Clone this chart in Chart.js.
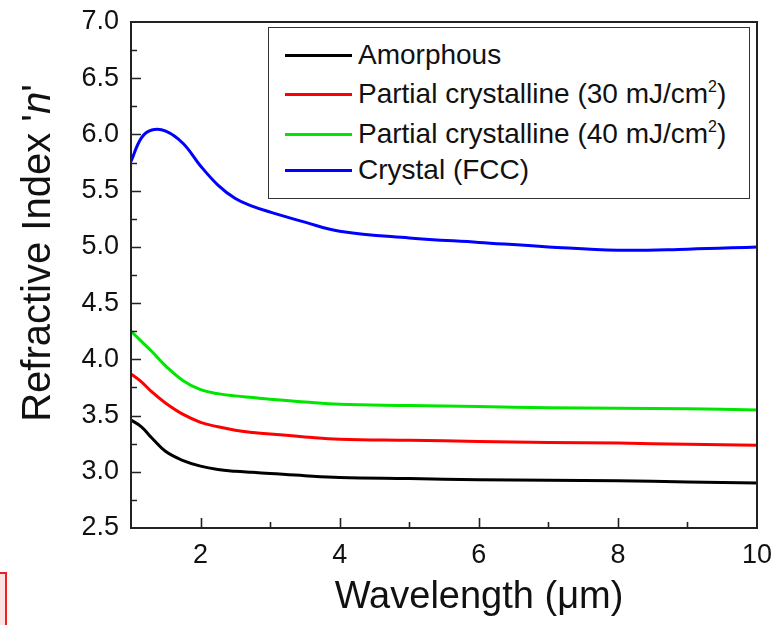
<!DOCTYPE html>
<html>
<head>
<meta charset="utf-8">
<script src="https://cdn.jsdelivr.net/npm/chart.js@4/dist/chart.umd.min.js"></script>
<style>
  html, body { margin: 0; padding: 0; background: #fff; overflow: hidden; }
  #wrap { position: relative; width: 774px; height: 625px; font-family: Arial, "Liberation Sans", sans-serif; }
  #legend {
    position: absolute; left: 268px; top: 27px; width: 480px; height: 170px;
    border: 1.5px solid #333; background: #fff; box-sizing: content-box;
  }
  .row { position: absolute; left: 0; height: 30px; font-size: 28px; line-height: 30px; color: #111; white-space: nowrap; }
  .row .ln { position: absolute; left: 16px; top: 14px; width: 67px; height: 3px; }
  .row .tx { position: absolute; left: 89px; top: 0; }
  .row sup { font-size: 16px; line-height: 0; vertical-align: 11px; }
  #mark { position: absolute; left: -30px; top: 572px; width: 33px; height: 80px; border: 2px solid #e22; background: #fde4e4; }
</style>
</head>
<body>
<div id="wrap">
  <canvas id="c" width="774" height="625"></canvas>
  <div id="legend"></div>
  <div id="mark"></div>
</div>
<script>
// wavelength (µm) and refractive index n for each phase
const wavelength  = [1, 1.15, 1.3, 1.5, 1.75, 2, 2.25, 2.5, 2.75, 3, 3.5, 4, 5, 6, 7, 8, 9, 10];
const amorphous   = [3.46, 3.40, 3.30, 3.18, 3.10, 3.05, 3.02, 3.005, 2.995, 2.985, 2.965, 2.95, 2.94, 2.93, 2.925, 2.92, 2.91, 2.90];
const partial30   = [3.87, 3.80, 3.71, 3.61, 3.51, 3.44, 3.40, 3.37, 3.35, 3.335, 3.31, 3.29, 3.28, 3.27, 3.26, 3.255, 3.245, 3.237];
const partial40   = [4.25, 4.16, 4.07, 3.94, 3.81, 3.73, 3.695, 3.675, 3.66, 3.645, 3.62, 3.60, 3.59, 3.58, 3.57, 3.565, 3.56, 3.55];
const crystal     = [5.76, 5.97, 6.04, 6.03, 5.92, 5.72, 5.55, 5.43, 5.36, 5.31, 5.22, 5.14, 5.08, 5.04, 5.00, 4.97, 4.98, 5.00];

const seriesNames  = ['Amorphous', 'Partial crystalline (30 mJ/cm<sup>2</sup>)', 'Partial crystalline (40 mJ/cm<sup>2</sup>)', 'Crystal (FCC)'];
const seriesColors = ['#000000', '#ff0000', '#00e600', '#0000ff'];

const xTicks = [2, 4, 6, 8, 10];
const yTicks = [2.5, 3.0, 3.5, 4.0, 4.5, 5.0, 5.5, 6.0, 6.5, 7.0];

const FONT = 'Arial, "Liberation Sans", sans-serif';

function toPoints(ys) {
  return wavelength.map((x, i) => ({ x, y: ys[i] }));
}

// frame box, inward ticks and axis titles
const frameAndTitles = {
  id: 'frameAndTitles',
  afterDraw(chart) {
    const { ctx, chartArea: a, scales: { x, y } } = chart;
    ctx.save();
    ctx.strokeStyle = '#222';
    ctx.lineWidth = 2;
    ctx.strokeRect(a.left, a.top, a.right - a.left, a.bottom - a.top);

    ctx.lineWidth = 1.6;
    ctx.beginPath();
    for (let v = 2.75; v < 7.0; v += 0.25) {
      const py = Math.round(y.getPixelForValue(v)) + 0.5;
      const major = Math.abs(v * 2 - Math.round(v * 2)) < 1e-6;
      ctx.moveTo(a.left, py);
      ctx.lineTo(a.left + (major ? 10 : 6), py);
    }
    for (let v = 2; v < 10; v += 1) {
      const px = Math.round(x.getPixelForValue(v)) + 0.5;
      ctx.moveTo(px, a.bottom);
      ctx.lineTo(px, a.bottom - (v % 2 === 0 ? 10 : 6));
    }
    ctx.stroke();

    ctx.fillStyle = '#111';
    ctx.textBaseline = 'alphabetic';
    ctx.font = '38px ' + FONT;
    ctx.textAlign = 'center';
    ctx.fillText('Wavelength (\u03bcm)', 479, 608);

    // y title with italic n
    ctx.translate(50, 253);
    ctx.rotate(-Math.PI / 2);
    const normal = '40px ' + FONT, italic = 'italic 40px ' + FONT;
    const parts = [["Refractive Index '", normal], ['n', italic], ["'", normal]];
    let total = 0;
    parts.forEach(([t, f]) => { ctx.font = f; total += ctx.measureText(t).width; });
    let cx = -total / 2;
    ctx.textAlign = 'left';
    parts.forEach(([t, f]) => { ctx.font = f; ctx.fillText(t, cx, 0); cx += ctx.measureText(t).width; });
    ctx.restore();
  }
};

new Chart(document.getElementById('c'), {
  type: 'line',
  data: {
    datasets: [amorphous, partial30, partial40, crystal].map((ys, i) => ({
      label: seriesNames[i].replace(/<\/?sup>/g, ''),
      data: toPoints(ys),
      borderColor: seriesColors[i],
      borderWidth: 3,
      pointRadius: 0,
      tension: 0.4,
      fill: false
    }))
  },
  options: {
    responsive: false,
    devicePixelRatio: 1,
    animation: false,
    layout: { padding: { top: 22, right: 17, left: 0, bottom: 0 } },
    plugins: { legend: { display: false }, tooltip: { enabled: false } },
    scales: {
      x: {
        type: 'linear', min: 1, max: 10,
        grid: { display: false, drawTicks: false },
        border: { display: false },
        afterBuildTicks: s => { s.ticks = xTicks.map(v => ({ value: v })); },
        afterFit: s => { s.height = 97; s.paddingLeft = 0; s.paddingRight = 0; },
        ticks: { color: '#111', font: { family: FONT, size: 27 }, padding: 11, maxRotation: 0 }
      },
      y: {
        type: 'linear', min: 2.5, max: 7.0,
        grid: { display: false, drawTicks: false },
        border: { display: false },
        afterBuildTicks: s => { s.ticks = yTicks.map(v => ({ value: v })); },
        afterFit: s => { s.width = 131; s.paddingTop = 0; s.paddingBottom = 0; },
        ticks: { color: '#111', font: { family: FONT, size: 27 }, padding: 12, callback: v => v.toFixed(1) }
      }
    }
  },
  plugins: [frameAndTitles]
});

// legend box (row centres in page pixels)
const rowCentres = [55, 94, 134, 170];
const legend = document.getElementById('legend');
seriesNames.forEach((name, i) => {
  const row = document.createElement('div');
  row.className = 'row';
  row.style.top = (rowCentres[i] - 27 - 1.5 - 15) + 'px';
  row.innerHTML = '<span class="ln" style="background:' + seriesColors[i] + '"></span><span class="tx">' + name + '</span>';
  legend.appendChild(row);
});
</script>
</body>
</html>
